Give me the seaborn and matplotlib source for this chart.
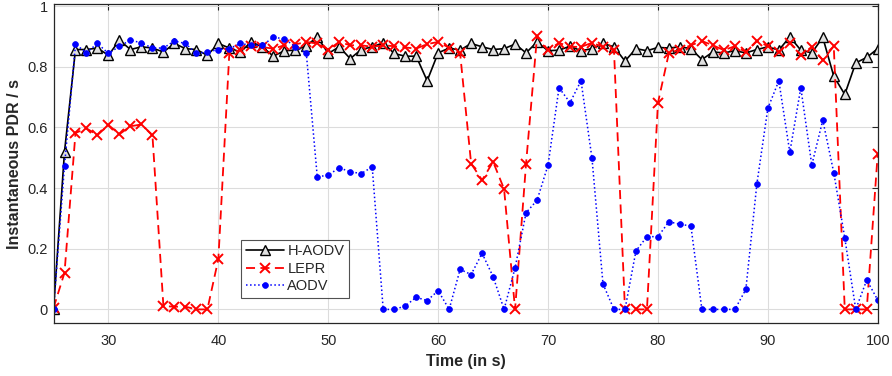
import numpy as np
import pandas as pd
import matplotlib
matplotlib.use('Agg')
import matplotlib.pyplot as plt
import seaborn as sns

# time axis (seconds)
time = list(range(25, 101))

h_aodv = [0.0, 0.52, 0.857, 0.857, 0.862, 0.838, 0.888, 0.857, 0.866, 0.862,
          0.849, 0.877, 0.860, 0.857, 0.838, 0.877, 0.862, 0.849, 0.882, 0.866,
          0.835, 0.853, 0.855, 0.869, 0.899, 0.844, 0.866, 0.827, 0.857, 0.866,
          0.879, 0.844, 0.835, 0.835, 0.754, 0.846, 0.862, 0.855, 0.877, 0.866,
          0.857, 0.860, 0.875, 0.846, 0.882, 0.853, 0.855, 0.868, 0.853, 0.860,
          0.877, 0.866, 0.819, 0.860, 0.853, 0.864, 0.862, 0.866, 0.860, 0.824,
          0.849, 0.846, 0.853, 0.846, 0.857, 0.866, 0.855, 0.899, 0.855, 0.846,
          0.897, 0.769, 0.709, 0.813, 0.831, 0.860]

lepr = [0.005, 0.121, 0.582, 0.597, 0.575, 0.608, 0.578, 0.604, 0.610, 0.575,
        0.011, 0.009, 0.009, 0.0, 0.0, 0.166, 0.846, 0.855, 0.868, 0.865,
        0.860, 0.871, 0.874, 0.882, 0.877, 0.857, 0.882, 0.871, 0.871, 0.866,
        0.871, 0.868, 0.864, 0.860, 0.875, 0.882, 0.863, 0.844, 0.481, 0.426,
        0.487, 0.397, 0.0, 0.481, 0.901, 0.855, 0.879, 0.866, 0.866, 0.879,
        0.866, 0.855, 0.0, 0.0, 0.0, 0.681, 0.846, 0.857, 0.871, 0.885,
        0.871, 0.855, 0.868, 0.849, 0.886, 0.868, 0.849, 0.879, 0.838, 0.866,
        0.822, 0.868, 0.0, 0.0, 0.0, 0.514]

aodv = [0.0, 0.474, 0.874, 0.847, 0.877, 0.844, 0.868, 0.888, 0.879, 0.862,
        0.862, 0.885, 0.877, 0.844, 0.849, 0.857, 0.860, 0.877, 0.871, 0.871,
        0.897, 0.893, 0.866, 0.846, 0.437, 0.443, 0.467, 0.454, 0.448, 0.470,
        0.0, 0.0, 0.011, 0.040, 0.029, 0.062, 0.0, 0.132, 0.115, 0.185,
        0.108, 0.0, 0.137, 0.319, 0.360, 0.476, 0.731, 0.682, 0.754, 0.498,
        0.084, 0.0, 0.0, 0.193, 0.240, 0.240, 0.289, 0.281, 0.275, 0.0,
        0.0, 0.0, 0.0, 0.066, 0.413, 0.663, 0.754, 0.518, 0.731, 0.476,
        0.624, 0.451, 0.236, 0.0, 0.097, 0.031]

sns.set_theme(style='whitegrid')
plt.rcParams['font.family'] = ['Liberation Sans', 'DejaVu Sans']

fig, ax = plt.subplots(figsize=(8.92, 3.76), dpi=100)

sns.lineplot(x=time, y=h_aodv, ax=ax, color='black', linewidth=1.2,
             marker='^', markersize=6.5, markerfacecolor='#e0e0e0',
             markeredgecolor='black', markeredgewidth=1.0, label='H-AODV')
sns.lineplot(x=time, y=lepr, ax=ax, color='#ff0000', linewidth=1.3,
             linestyle=(0, (5, 3)), marker='x', markersize=7,
             markeredgecolor='#ff0000', markeredgewidth=1.4, label='LEPR')
sns.lineplot(x=time, y=aodv, ax=ax, color='#0000ff', linewidth=1.1,
             linestyle=':', marker='o', markersize=4.2,
             markerfacecolor='#0000ff', markeredgecolor='#0000ff',
             markeredgewidth=0.5, label='AODV')

ax.set_xlim(25, 100)
ax.set_ylim(-0.046, 1.008)
ax.set_xticks([30, 40, 50, 60, 70, 80, 90, 100])
ax.set_yticks([0, 0.2, 0.4, 0.6, 0.8, 1])
ax.set_yticklabels(['0', '0.2', '0.4', '0.6', '0.8', '1'])
ax.grid(True, color='#dcdcdc', linewidth=0.8)
ax.set_facecolor('white')
for s in ax.spines.values():
    s.set_color('#262626')
    s.set_linewidth(0.9)
    s.set_visible(True)
ax.tick_params(direction='in', top=True, right=True, length=4, width=0.8,
               colors='#262626', labelsize=10.5, pad=4)
ax.tick_params(axis='x', pad=8)

ax.set_xlabel('Time (in s)', fontsize=11.5, fontweight='bold', color='#262626')
ax.set_ylabel('Instantaneous PDR / s', fontsize=11.5, fontweight='bold',
              color='#262626')

leg = ax.legend(loc='lower left', bbox_to_anchor=(0.228, 0.08), fontsize=10.5,
                frameon=True, fancybox=False, edgecolor='#262626',
                borderpad=0.3, labelspacing=0.25, handlelength=2.6,
                handletextpad=0.25, borderaxespad=0)
leg.get_frame().set_linewidth(0.8)

fig.subplots_adjust(left=0.06, right=0.984, top=0.99, bottom=0.14)
fig.savefig('out.png', dpi=100)
